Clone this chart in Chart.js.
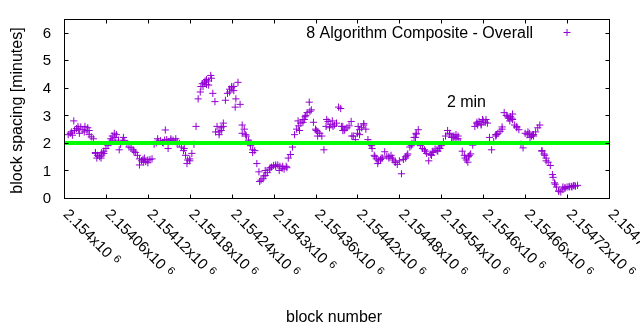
<!DOCTYPE html>
<html>
<head>
<meta charset="utf-8">
<script src="https://cdn.jsdelivr.net/npm/chart.js@4/dist/chart.umd.min.js"></script>
<style>
  html, body { margin: 0; padding: 0; background: #fff; }
  #c { display: block; }
</style>
</head>
<body>
<canvas id="c" width="640" height="330"></canvas>
<script>
// Block spacing (minutes) of the 8-algorithm composite, sampled every 3 blocks
const firstBlock = 2154006;
const blockStep = 3;
const spacingMinutes = [
  2.3, 2.35, 2.28, 2.45, 2.52, 2.5, 2.58, 2.48, 2.6, 2.45,
  2.45, 2.22, 2.15, 1.62, 1.55, 1.5, 1.56, 1.62, 1.8, 1.9,
  2.05, 2.25, 2.35, 2.3, 2.1, 1.95, 2.05, 2.08, 1.98, 1.85,
  1.82, 1.75, 1.65, 1.55, 1.42, 1.35, 1.3, 1.32, 1.38, 1.4,
  1.42, 1.95, 2.0, 2.05, 2.08, 2.02, 2.1, 2.12, 2.05, 2.1,
  2.1, 2.05, 2.05, 1.98, 1.85, 1.72, 1.55, 1.38, 1.42, 1.62,
  1.95, 2.6, 3.6, 3.85, 4.15, 4.2, 4.12, 4.25, 4.45, 3.8,
  3.5, 2.6, 2.3, 2.45, 2.72, 3.55, 3.8, 3.95, 4.0, 4.05,
  3.6, 4.2, 3.4, 2.65, 2.5, 2.25, 2.1, 1.9, 1.75, 1.72,
  1.25, 0.95, 0.65, 0.7, 0.82, 0.92, 1.05, 1.12, 1.18, 1.15,
  1.2, 1.15, 1.08, 1.05, 1.15, 1.45, 1.58, 1.85, 2.3, 2.5,
  2.62, 2.72, 2.85, 2.95, 3.1, 3.48, 3.2, 2.75, 2.5, 2.4,
  2.35, 2.25, 1.75, 2.6, 2.78, 2.68, 2.8, 2.65, 2.72, 3.3,
  3.25, 2.45, 2.5, 2.55, 2.62, 2.78, 2.25, 2.12, 2.35, 2.48,
  2.55, 2.65, 2.5, 2.12, 1.95, 1.8, 1.55, 1.42, 1.35, 1.4,
  1.45, 1.68, 1.52, 1.45, 1.55, 1.38, 1.3, 1.22, 1.35, 0.88,
  1.4, 1.5, 1.6, 1.85, 1.98, 2.2, 2.32, 2.48, 1.9, 1.8,
  1.75, 1.62, 1.35, 1.58, 1.7, 1.78, 1.72, 1.85, 1.9, 2.05,
  2.25, 2.45, 2.32, 2.2, 2.25, 2.3, 2.15, 2.05, 1.7, 1.55,
  1.38, 1.5, 1.6, 1.92, 2.6, 2.7, 2.78, 2.68, 2.8, 2.75,
  2.72, 2.2, 1.75, 2.05, 2.25, 2.35, 2.42, 2.58, 3.1, 3.0,
  2.9, 2.95, 2.85, 2.65, 2.6, 2.48, 1.95, 1.82, 2.35, 2.3,
  2.35, 2.25, 2.3, 2.4, 2.55, 2.65, 1.72, 1.6, 1.45, 1.3,
  1.18, 0.85, 0.55, 0.4, 0.25, 0.22, 0.32, 0.38, 0.4, 0.42,
  0.42, 0.45, 0.43, 0.46
];

// Additional individual blocks between the sampled ones
const extraBlocks = [
  2154014, 2154022, 2154036, 2154047, 2154054, 2154069, 2154079, 2154085, 2154108, 2154115,
  2154145, 2154149, 2154162, 2154176, 2154199, 2154204, 2154211, 2154217, 2154225, 2154237,
  2154245, 2154255, 2154270, 2154280, 2154288, 2154308, 2154337, 2154344, 2154363, 2154380,
  2154399, 2154423, 2154429, 2154440, 2154449, 2154470, 2154489, 2154503, 2154526, 2154535,
  2154555, 2154561, 2154578, 2154592, 2154599, 2154619, 2154638, 2154642, 2154667, 2154672,
  2154690, 2154703, 2154717, 2154727
];
const extraSpacing = [
  2.8, 2.35, 2.3, 1.45, 1.65, 2.1, 1.75, 2.2, 1.2, 1.45,
  2.47, 1.8, 1.95, 1.25, 4.05, 4.3, 4.35, 2.4, 2.55, 3.85,
  3.3, 2.35, 1.65, 0.6, 1.0, 1.0, 2.45, 2.85, 2.25, 2.55,
  2.6, 2.3, 2.7, 1.9, 1.25, 1.45, 1.45, 2.2, 1.55, 1.7,
  2.2, 2.15, 1.3, 2.65, 2.85, 2.3, 2.8, 3.05, 2.2, 2.25,
  1.35, 0.5, 0.35, 0.4
];
const moreBlocks = [
  2154011, 2154020, 2154029, 2154034, 2154045, 2154053, 2154057, 2154067, 2154073, 2154100,
  2154113, 2154120, 2154134, 2154142, 2154153, 2154160, 2154172, 2154180, 2154196, 2154202,
  2154207, 2154222, 2154228, 2154240, 2154243, 2154260, 2154266, 2154286, 2154295, 2154303,
  2154313, 2154319, 2154335, 2154342, 2154346, 2154352, 2154361, 2154376, 2154385, 2154397,
  2154401, 2154412, 2154421, 2154445, 2154454, 2154465, 2154474, 2154491, 2154497, 2154504,
  2154517, 2154528, 2154538, 2154552, 2154558, 2154564, 2154574, 2154580, 2154591, 2154597,
  2154604, 2154618, 2154627, 2154635, 2154641, 2154648, 2154664, 2154671, 2154684, 2154688,
  2154700, 2154708, 2154714, 2154723, 2154730
];
const moreSpacing = [
  2.4, 2.6, 2.4, 2.55, 1.65, 1.45, 1.7, 2.15, 2.2, 1.7,
  1.4, 1.28, 2.15, 2.0, 2.15, 2.15, 1.8, 1.35, 4.05, 4.25,
  4.1, 2.4, 2.6, 4.05, 3.9, 2.3, 2.0, 0.8, 1.1, 1.2,
  1.15, 1.1, 2.8, 2.75, 3.0, 3.15, 2.45, 2.85, 2.6, 2.6,
  2.45, 2.25, 2.6, 1.5, 1.45, 1.5, 1.3, 1.55, 1.9, 2.35,
  1.7, 1.65, 1.8, 2.35, 2.2, 2.25, 1.45, 1.55, 2.75, 2.65,
  2.85, 2.3, 2.5, 2.95, 2.9, 2.55, 2.4, 2.3, 1.7, 1.55,
  0.75, 0.25, 0.4, 0.4, 0.45
];

// Target spacing reference line
const targetMinutes = 2;
const targetLabel = '2 min';
const targetLabelAt = { block: 2154548, minutes: 3.3 };

// Axes
const xMin = 2154000, xMax = 2154780;
const yMin = 0, yMax = 6.5;
const xTickValues = [2154000, 2154060, 2154120, 2154180, 2154240, 2154300, 2154360,
                     2154420, 2154480, 2154540, 2154600, 2154660, 2154720, 2154780];
const xTickMantissas = ['2.154', '2.15406', '2.15412', '2.15418', '2.15424', '2.1543', '2.15436',
                        '2.15442', '2.15448', '2.15454', '2.1546', '2.15466', '2.15472', '2.15478'];
const xTickExponent = '6';
const yTickValues = [0, 1, 2, 3, 4, 5, 6];

const seriesName = '8 Algorithm Composite - Overall';
const xTitle = 'block number';
const yTitle = 'block spacing [minutes]';

const purple = '#9400d3';
const green = '#00ff00';
const FONT = '"Liberation Sans", Arial, sans-serif';

const points = spacingMinutes.map((v, i) => ({ x: firstBlock + i * blockStep, y: v }))
  .concat(extraBlocks.map((b, i) => ({ x: b, y: extraSpacing[i] })))
  .concat(moreBlocks.map((b, i) => ({ x: b, y: moreSpacing[i] })));

// Gnuplot-like frame: border, mirrored inward ticks, rotated labels, key and titles
const framePlugin = {
  id: 'gnuplotFrame',
  afterDraw(chart) {
    const { ctx, chartArea: a, scales: { x, y } } = chart;
    ctx.save();
    ctx.strokeStyle = '#000';
    ctx.lineWidth = 1;
    ctx.strokeRect(a.left + 0.5, a.top + 0.5, a.right - a.left, a.bottom - a.top);

    const tick = 4;
    ctx.beginPath();
    xTickValues.forEach(v => {
      const px = Math.round(x.getPixelForValue(v)) + 0.5;
      ctx.moveTo(px, a.bottom + 0.5); ctx.lineTo(px, a.bottom + 0.5 - tick);
      ctx.moveTo(px, a.top + 0.5); ctx.lineTo(px, a.top + 0.5 + tick);
    });
    yTickValues.forEach(v => {
      const py = Math.round(y.getPixelForValue(v)) + 0.5;
      ctx.moveTo(a.left + 0.5, py); ctx.lineTo(a.left + 0.5 + tick, py);
      ctx.moveTo(a.right + 0.5, py); ctx.lineTo(a.right + 0.5 - tick, py);
    });
    ctx.stroke();

    ctx.fillStyle = '#000';
    // y tick labels
    ctx.font = '15px ' + FONT;
    ctx.textAlign = 'right';
    ctx.textBaseline = 'middle';
    yTickValues.forEach(v => {
      ctx.fillText(String(v), a.left - 13, y.getPixelForValue(v) + 1);
    });

    // x tick labels, rotated clockwise with a superscript exponent
    xTickValues.forEach((v, i) => {
      const px = x.getPixelForValue(v);
      ctx.save();
      ctx.translate(px + 1.5, a.bottom + 14);
      ctx.rotate(Math.PI / 4);
      ctx.textAlign = 'left';
      ctx.textBaseline = 'middle';
      ctx.font = '15px ' + FONT;
      const base = xTickMantissas[i] + 'x10';
      ctx.fillText(base, 0, 0);
      const w = ctx.measureText(base).width;
      ctx.font = '11px ' + FONT;
      ctx.fillText(xTickExponent, w + 5, -3);
      ctx.restore();
    });

    // axis titles
    ctx.font = '16px ' + FONT;
    ctx.textAlign = 'center';
    ctx.textBaseline = 'alphabetic';
    ctx.fillText(xTitle, 334, 321.5);
    ctx.save();
    ctx.translate(18, (a.top + a.bottom) / 2 + 2);
    ctx.rotate(-Math.PI / 2);
    ctx.textBaseline = 'middle';
    ctx.fillText(yTitle, 0, 0);
    ctx.restore();

    // key
    ctx.textAlign = 'right';
    ctx.textBaseline = 'alphabetic';
    ctx.fillText(seriesName, 533, 37.5);
    ctx.strokeStyle = purple;
    ctx.beginPath();
    ctx.moveTo(563.5, 32.5); ctx.lineTo(570.5, 32.5);
    ctx.moveTo(567, 29); ctx.lineTo(567, 36);
    ctx.stroke();

    // reference line label
    ctx.textAlign = 'left';
    ctx.fillText(targetLabel, x.getPixelForValue(targetLabelAt.block), y.getPixelForValue(targetLabelAt.minutes));
    ctx.restore();
  }
};

new Chart(document.getElementById('c'), {
  type: 'scatter',
  data: {
    datasets: [
      {
        label: targetLabel,
        type: 'line',
        data: [{ x: xMin, y: targetMinutes }, { x: xMax, y: targetMinutes }],
        borderColor: green,
        borderWidth: 4,
        pointRadius: 0,
        fill: false,
        order: 0
      },
      {
        label: seriesName,
        data: points,
        pointStyle: 'cross',
        pointRadius: 3.6,
        borderColor: purple,
        backgroundColor: purple,
        borderWidth: 1,
        order: 1
      }
    ]
  },
  options: {
    responsive: false,
    animation: false,
    events: [],
    layout: { padding: { left: 64, right: 31, top: 19, bottom: 132 } },
    scales: {
      x: { type: 'linear', min: xMin, max: xMax, display: false },
      y: { type: 'linear', min: yMin, max: yMax, display: false }
    },
    plugins: { legend: { display: false }, tooltip: { enabled: false } }
  },
  plugins: [framePlugin]
});
</script>
</body>
</html>
